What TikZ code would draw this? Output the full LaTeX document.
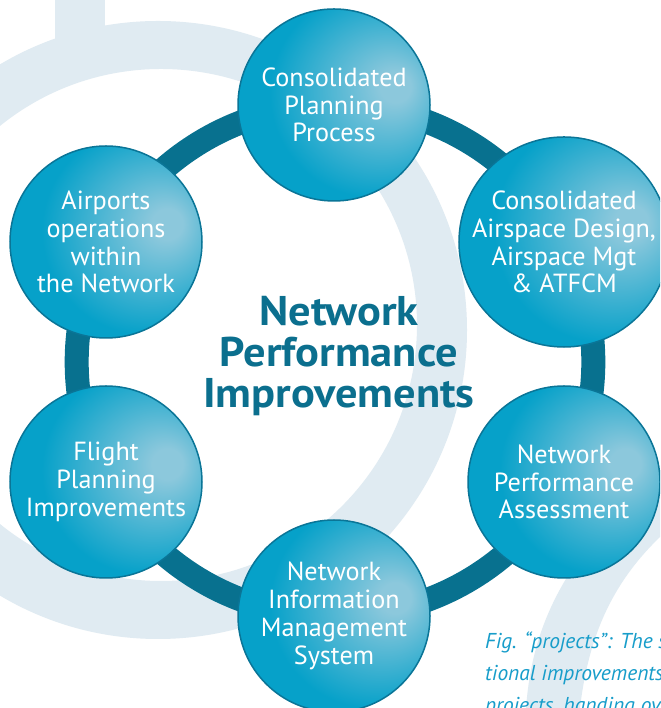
\documentclass[tikz,border=0pt]{standalone}
\usepackage{fontspec}
\setmainfont{PT Sans}
\newfontfamily\titlefont[FakeStretch=1.07]{PT Sans}

\definecolor{bubhi}{HTML}{8CC8DC}
\definecolor{bubmid}{HTML}{06A1C9}
\definecolor{bubedge}{HTML}{0A88AF}
\definecolor{bubline}{HTML}{0A7597}
\definecolor{ringcol}{HTML}{08718F}
\definecolor{titlecol}{HTML}{0B6F8E}
\definecolor{logocol}{HTML}{E0EBF2}
\definecolor{captioncol}{HTML}{179DCA}

\pgfdeclareradialshading{bubble}{\pgfpoint{17bp}{5bp}}{color(0bp)=(bubhi); color(4bp)=(bubhi); color(27bp)=(bubmid); color(46bp)=(bubmid); color(68bp)=(bubedge)}

\begin{document}
\begin{tikzpicture}[x=1pt,y=1pt,
    project/.style={circle, minimum size=192pt, inner sep=0pt, shading=bubble,
        draw=bubline, line width=1.5pt, text=white, align=center,
        font=\fontsize{26.2}{27.8}\selectfont},
    link/.style={draw=ringcol, line width=24pt, looseness=0.92},
    logoband/.style={fill=logocol}]
        \useasboundingbox (0,0) rectangle (660,708);
        \clip (0,0) rectangle (660,708);
        \fill[white] (0,0) rectangle (660,708);

        \fill[logoband, even odd rule] (158,378) circle (309pt) (161,383) circle (256pt);
        \fill[logoband] (55,663) rectangle (105,708);
        \fill[logoband] (526,0) .. controls (532,78) and (560,148) .. (660,238)
            -- (660,171) .. controls (610,123) and (588,68) .. (580,0) -- cycle;

        \node[text=titlecol, align=center, font=\titlefont\bfseries\fontsize{41.5}{41}\selectfont] (title) at (339,352) {Network\\Performance\\Improvements};

        \coordinate (a) at (334,603);
        \coordinate (b) at (564,466);
        \coordinate (c) at (564,226);
        \coordinate (d) at (334,92);
        \coordinate (e) at (106,226);
        \coordinate (f) at (106,466);

        \draw[link] (a) to[bend left=31] (b) to[bend left=27] (c) to[bend left=31] (d)
            to[bend left=31] (e) to[bend left=27] (f) to[bend left=31] (a);

        \node[project] (plan) at (a) {Consolidated\\Planning\\Process};
        \node[project] (space) at (b) {Consolidated\\Airspace Design,\\Airspace Mgt\\\& ATFCM};
        \node[project] (perf) at (c) {Network\\Performance\\Assessment};
        \node[project] (nims) at (d) {Network\\Information\\Management\\System};
        \node[project] (flight) at (e) {Flight\\Planning\\Improvements};
        \node[project] (airport) at (f) {Airports\\operations\\within\\the Network};

        \node[anchor=north west, align=left, inner sep=0pt, text=captioncol,
            font=\itshape\fontsize{21.5}{32}\selectfont] (caption) at (485,76)
            {Fig. “projects”: The si\\tional improvements\\projects, handing over};
\end{tikzpicture}
\end{document}
